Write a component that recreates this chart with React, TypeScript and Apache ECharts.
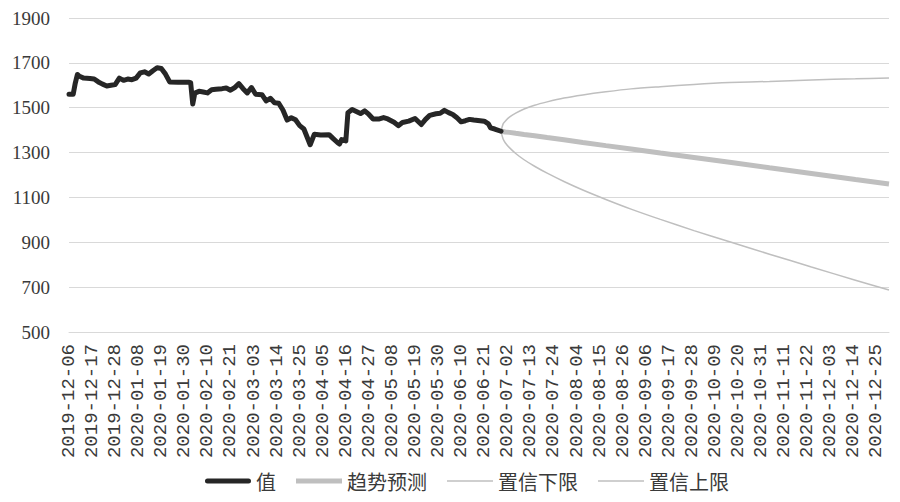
import React, { useEffect, useRef } from "react";
import * as echarts from "echarts";

// x tick labels, every 11 days starting at day 0 (2019-12-06)
const tickLabels = [
  "2019-12-06", "2019-12-17", "2019-12-28", "2020-01-08", "2020-01-19", "2020-01-30",
  "2020-02-10", "2020-02-21", "2020-03-03", "2020-03-14", "2020-03-25", "2020-04-05",
  "2020-04-16", "2020-04-27", "2020-05-08", "2020-05-19", "2020-05-30", "2020-06-10",
  "2020-06-21", "2020-07-02", "2020-07-13", "2020-07-24", "2020-08-04", "2020-08-15",
  "2020-08-26", "2020-09-06", "2020-09-17", "2020-09-28", "2020-10-09", "2020-10-20",
  "2020-10-31", "2020-11-11", "2020-11-22", "2020-12-03", "2020-12-14", "2020-12-25",
];
const tickStep = 11;
const lastDay = 391; // 2020-12-31

const yTicks = [500, 700, 900, 1100, 1300, 1500, 1700, 1900];

// historical values (day index since 2019-12-06)
const histDays = [
  0, 2, 3, 4, 5, 7, 10, 12, 14, 16, 18, 20, 22, 24, 26, 28, 30, 32, 34, 36, 38, 40, 42, 44, 46, 48,
  52, 57, 58, 59, 60, 62, 64, 66, 68, 70, 73, 75, 77, 79, 81, 83, 85, 87, 89, 92, 94, 96, 98, 100,
  102, 104, 106, 108, 110, 112, 115, 117, 120, 124, 126, 128, 129, 130, 132, 133, 135, 137, 139,
  141, 143, 145, 148, 150, 152, 155, 157, 159, 162, 165, 168, 170, 172, 175, 177, 179, 181, 183,
  185, 187, 189, 191, 193, 195, 198, 200, 201, 203, 206,
];
const histValues = [
  1560, 1560, 1610, 1648, 1640, 1632, 1630, 1628, 1615, 1605, 1597, 1600, 1603, 1632, 1622, 1628,
  1625, 1632, 1655, 1660, 1650, 1665, 1678, 1675, 1650, 1615,
  1614, 1614, 1612, 1517, 1565, 1573, 1570, 1566, 1580, 1582, 1585, 1588, 1578, 1590, 1607, 1585,
  1566, 1590, 1560, 1558, 1530, 1542, 1522, 1520,
  1490, 1445, 1455, 1446, 1420, 1405, 1335, 1382, 1378, 1380, 1362, 1345, 1338, 1358, 1352, 1478,
  1492, 1483, 1474,
  1486, 1470, 1450, 1450, 1456, 1450, 1435, 1420, 1434, 1440, 1452, 1425, 1448, 1466, 1473, 1475,
  1488, 1478, 1470,
  1455, 1437, 1442, 1448, 1445, 1443, 1440, 1428, 1410, 1405, 1395,
];

// forecast (day index)
const fcDays = [206, 207, 208, 210, 213, 217, 222, 228, 236, 245, 256, 268, 282, 298, 315, 334, 354, 375, 391];
const trendValues = [1395, 1394, 1392, 1390, 1386, 1381, 1375, 1367, 1357, 1345, 1331, 1316, 1298, 1278, 1257, 1232, 1207, 1180, 1160];
const upperValues = [1395, 1428, 1440, 1458, 1476, 1494, 1511, 1526, 1543, 1557, 1571, 1584, 1594, 1604, 1612, 1617, 1624, 1629, 1633];
const lowerValues = [1395, 1360, 1344, 1322, 1296, 1268, 1239, 1208, 1171, 1133, 1091, 1048, 1002, 952, 902, 847, 790, 731, 687];

const seriesNames = ["值", "趋势预测", "置信下限", "置信上限"];

const pairs = (xs: number[], ys: number[]) => xs.map((x, i) => [x, ys[i]]);

const thickIcon = "path://M2.5,0H43.5A2.5,2.5,0,0,1,43.5,5H2.5A2.5,2.5,0,0,1,2.5,0Z";
const midIcon = "path://M0,0H46V5H0Z";
const thinIcon = "path://M0,0H46V1.6H0Z";

export default function App() {
  const ref = useRef<HTMLDivElement>(null);
  useEffect(() => {
    if (!ref.current) return;
    const chart = echarts.init(ref.current, undefined, { renderer: "svg" });
    const labelColor = "#3a3a3a";
    chart.setOption({
      animation: false,
      backgroundColor: "#ffffff",
      grid: { left: 69, right: 11, top: 18, bottom: 170, containLabel: false },
      xAxis: {
        type: "value",
        min: 0,
        max: lastDay,
        interval: tickStep,
        axisLine: { show: true, lineStyle: { color: "#d9d9d9", width: 1 } },
        axisTick: { show: false },
        splitLine: { show: false },
        axisLabel: {
          rotate: 90,
          margin: 12,
          showMaxLabel: false,
          fontFamily: "Liberation Mono",
          fontSize: 19,
          color: labelColor,
          formatter: (v: number) => (v % tickStep === 0 ? tickLabels[v / tickStep] ?? "" : ""),
        },
      },
      yAxis: {
        type: "value",
        min: yTicks[0],
        max: yTicks[yTicks.length - 1],
        interval: 200,
        axisLine: { show: false },
        axisTick: { show: false },
        splitLine: { show: true, lineStyle: { color: "#d9d9d9", width: 1 } },
        axisLabel: {
          margin: 19,
          fontFamily: "Liberation Serif",
          fontSize: 19,
          color: labelColor,
          formatter: (v: number) => String(v),
        },
      },
      legend: {
        left: 200,
        top: 466,
        itemWidth: 46,
        itemHeight: 14,
        itemGap: 20,
        textStyle: { fontFamily: "Noto Sans CJK SC", fontSize: 20, color: labelColor },
        data: [
          { name: seriesNames[0], icon: thickIcon },
          { name: seriesNames[1], icon: midIcon },
          { name: seriesNames[2], icon: thinIcon },
          { name: seriesNames[3], icon: thinIcon },
        ],
      },
      series: [
        {
          name: seriesNames[0],
          type: "line",
          symbol: "none",
          data: pairs(histDays, histValues),
          lineStyle: { color: "#262626", width: 5, cap: "round", join: "round" },
          itemStyle: { color: "#262626" },
          z: 4,
        },
        {
          name: seriesNames[1],
          type: "line",
          symbol: "none",
          data: pairs(fcDays, trendValues),
          lineStyle: { color: "#bfbfbf", width: 5 },
          itemStyle: { color: "#bfbfbf" },
          z: 3,
        },
        {
          name: seriesNames[2],
          type: "line",
          symbol: "none",
          smooth: 0.3,
          data: pairs(fcDays, lowerValues),
          lineStyle: { color: "#bfbfbf", width: 1.5 },
          itemStyle: { color: "#bfbfbf" },
          z: 2,
        },
        {
          name: seriesNames[3],
          type: "line",
          symbol: "none",
          smooth: 0.3,
          data: pairs(fcDays, upperValues),
          lineStyle: { color: "#bfbfbf", width: 1.5 },
          itemStyle: { color: "#bfbfbf" },
          z: 2,
        },
      ],
    });
    return () => chart.dispose();
  }, []);
  return (
    <div
      ref={ref}
      style={{ position: "fixed", left: 0, top: 0, width: 900, height: 502, background: "#fff" }}
    />
  );
}
